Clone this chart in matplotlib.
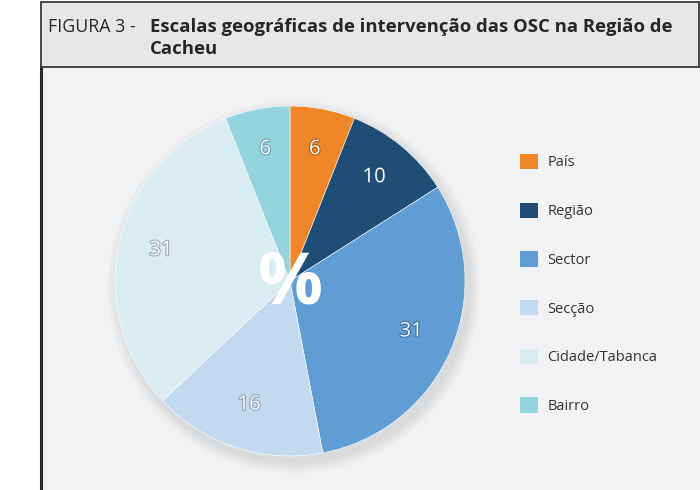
import matplotlib
matplotlib.use("Agg")
import matplotlib.pyplot as plt
import matplotlib.patches as mpatches
import matplotlib.patheffects as pe
from matplotlib import font_manager

categories = ["País", "Região", "Sector", "Secção", "Cidade/Tabanca", "Bairro"]
values = [6, 10, 31, 16, 31, 6]
colors = ["#ef8728", "#204d75", "#5f9dd4", "#c3d9ef", "#d8ecf1", "#93d4df"]
stroke_colors = ["#a8601f", "#2a5277", "#3d6f9c", "#94a6b8", "#9eadb6", "#6aa3ad"]
title_prefix = "FIGURA 3 -"
title_main_1 = "Escalas geográficas de intervenção das OSC na Região de"
title_main_2 = "Cacheu"

names = {f.name for f in font_manager.fontManager.ttflist}
fam = "Liberation Sans Narrow" if "Liberation Sans Narrow" in names else "Open Sans"
plt.rcParams["font.family"] = [fam, "DejaVu Sans"]

W, H = 700, 490
fig = plt.figure(figsize=(7, 4.9), dpi=100)
fig.patch.set_facecolor("white")
ax = fig.add_axes([0, 0, 1, 1])

def Y(y):
    return H - y

# body panel
ax.add_patch(mpatches.Rectangle((40, 0), W - 40 + 5, Y(67), facecolor="#f1f2f4",
                                edgecolor="none", zorder=0))
ax.plot([40.5, 40.5], [0, Y(67)], color="#2b2b2b", lw=2.2, zorder=1)
# header
ax.add_patch(mpatches.Rectangle((40.5, Y(67)), 658, 65, facecolor="#e7e7e8",
                                edgecolor="#3a3a3a", lw=1.3, zorder=1))

ax.text(48, Y(27), title_prefix, fontsize=12.8, color="#262626", va="center",
        ha="left", zorder=3)
ax.text(150, Y(27), title_main_1, fontsize=13.3, color="#262626", va="center",
        ha="left", fontweight="bold", zorder=3)
ax.text(150, Y(49), title_main_2, fontsize=13.3, color="#262626", va="center",
        ha="left", fontweight="bold", zorder=3)

cx, cy, R = 290, Y(281), 175

# soft shadow (mostly bottom-right)
for i in range(12):
    ax.add_patch(mpatches.Circle((cx + 4, cy - 6), R + 12 - i, facecolor="#000000",
                                 alpha=0.008, edgecolor="none", zorder=2))

wedges, texts, autotexts = ax.pie(
    values, colors=colors, startangle=90, counterclock=False,
    center=(cx, cy), radius=R, autopct="%d", pctdistance=0.755,
    wedgeprops=dict(edgecolor="#ffffff", linewidth=0.4),
    textprops=dict(fontsize=14.5, color="white"))
for w in wedges:
    w.set_zorder(4)
for t, v, sc in zip(autotexts, values, stroke_colors):
    t.set_text(str(v))
    t.set_zorder(5)
    x0, y0 = t.get_position()
    t.set_position((x0, y0 + 2))
    t.set_path_effects([pe.withStroke(linewidth=1.6, foreground=sc)])
    t.set_color("#f7f9fa")
ax.set_xlim(0, W)
ax.set_ylim(0, H)
ax.set_aspect("equal")
ax.axis("off")

ax.text(cx, cy - 4, "%", fontsize=52, fontweight="bold", color="white",
        ha="center", va="center", zorder=6)

handles = [mpatches.Patch(facecolor=c, edgecolor="none") for c in colors]
leg = ax.legend(handles, categories, loc="upper left",
                bbox_to_anchor=(514 / W, 1 - 148 / H), frameon=False,
                fontsize=10.5, handlelength=1.25, handleheight=1.25,
                labelspacing=2.2, handletextpad=0.65, borderaxespad=0)
for t in leg.get_texts():
    t.set_color("#333333")

fig.savefig("out.png", dpi=100, facecolor="white")
